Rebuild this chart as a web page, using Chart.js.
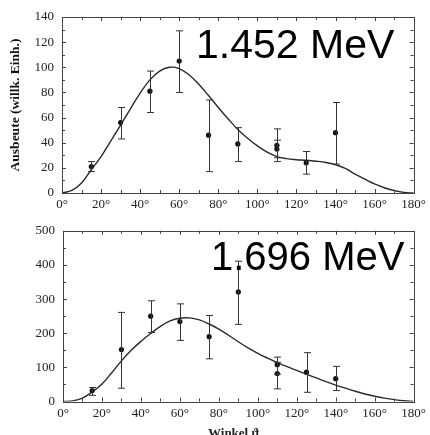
<!DOCTYPE html>
<html><head><meta charset="utf-8">
<script src="https://cdn.jsdelivr.net/npm/chart.js@4.4.0/dist/chart.umd.min.js"></script>
<style>
html,body{margin:0;padding:0;background:#fff;}
#wrap{position:relative;width:430px;height:435px;overflow:hidden;background:#fff;}
.c{position:absolute;left:0;width:430px;}
.lbl{position:absolute;font-family:"Liberation Sans",Arial,sans-serif;color:#000;white-space:nowrap;line-height:1;}
.xt{position:absolute;font-family:"Liberation Serif","Times New Roman",serif;font-weight:bold;font-size:13px;color:#222;white-space:nowrap;line-height:1;}
</style></head><body>
<div id="wrap">
<div class="c" style="top:0;height:215px"><canvas id="c1" width="430" height="215"></canvas></div>
<div class="c" style="top:215px;height:220px"><canvas id="c2" width="430" height="220"></canvas></div>
<div class="lbl" style="left:196px;top:24px;font-size:41px;">1.452 MeV</div>
<div class="lbl" style="left:211px;top:236px;font-size:40px;">1.696 MeV</div>
<div class="xt" style="left:208px;top:426px;">Winkel ϑ</div>
</div>
<script>
// ---- data ----
const angles = [15, 30, 45, 60, 75, 90, 110, 110, 125, 140];

const topValues = [21, 56, 81, 105, 46, 39, 38, 35, 24, 48];
const topLow    = [17, 43, 64, 80, 17, 25, 25, 28, 15, 23];
const topHigh   = [25, 68, 97, 129, 74, 52, 51, 42, 33, 72];

const bottomValues = [32, 152, 250, 234, 190, 321, 108, 82, 86, 67];
const bottomLow    = [18, 39, 202, 179, 125, 226, 80, 37, 27, 32];
const bottomHigh   = [41, 261, 295, 286, 252, 411, 130, 115, 143, 103];

const curveAngles = [0,5,10,15,20,25,30,35,40,45,50,55,60,65,70,75,80,85,90,95,100,105,110,115,120,125,130,135,140,145,150,155,160,165,170,175,180];
const topCurve    = [0,2,8,18.5,29,41.5,54,67,79.5,90,97,100,99,94,86.5,77.5,68,59,50.5,43.5,37.5,32.5,29,27.3,26.5,26,25.3,24.3,22.5,19.5,15,11,7.2,4.2,2,0.5,0];
const bottomCurve = [0,2,10,28,51,84,119,150,176,199,220,236,244,245,239,227,212,194,175,157,141,127,114,102,91,80,69,58,48,39,30,22,15.5,10,5.5,2,0];

const xTickLabels = ['0°','20°','40°','60°','80°','100°','120°','140°','160°','180°'];
const yTitle = 'Ausbeute (willk. Einh.)';

// ---- plugins ----
const errPlugin = {
  id: 'errbars',
  afterDatasetsDraw(chart, args, o) {
    const {ctx} = chart, x = chart.scales.x, y = chart.scales.y;
    ctx.save();
    ctx.strokeStyle = '#333'; ctx.lineWidth = 1;
    for (let i = 0; i < o.xs.length; i++) {
      const px = Math.round(x.getPixelForValue(o.xs[i])) + 0.5;
      const y1 = y.getPixelForValue(o.lo[i]), y2 = y.getPixelForValue(o.hi[i]);
      ctx.beginPath();
      ctx.moveTo(px, y1); ctx.lineTo(px, y2);
      ctx.moveTo(px - 3.5, y1); ctx.lineTo(px + 3.5, y1);
      ctx.moveTo(px - 3.5, y2); ctx.lineTo(px + 3.5, y2);
      ctx.stroke();
    }
    ctx.restore();
  }
};
const framePlugin = {
  id: 'frame',
  afterDraw(chart, args, o) {
    const {ctx, chartArea: a} = chart, x = chart.scales.x, y = chart.scales.y;
    ctx.save();
    ctx.strokeStyle = '#444'; ctx.lineWidth = 1;
    ctx.strokeRect(Math.round(a.left) + 0.5, Math.round(a.top) + 0.5, Math.round(a.right - a.left), Math.round(a.bottom - a.top));
    ctx.beginPath();
    for (let v = x.min; v <= x.max; v += o.xMinor) {
      const px = Math.round(x.getPixelForValue(v)) + 0.5;
      const L = (v % o.xMajor === 0) ? 4 : 3;
      ctx.moveTo(px, a.bottom); ctx.lineTo(px, a.bottom - L);
      ctx.moveTo(px, a.top); ctx.lineTo(px, a.top + L);
    }
    for (let v = y.min; v <= y.max; v += o.yMinor) {
      const py = Math.round(y.getPixelForValue(v)) + 0.5;
      const L = (v % o.yMajor === 0) ? 4 : 3;
      ctx.moveTo(a.left, py); ctx.lineTo(a.left + L, py);
      ctx.moveTo(a.right, py); ctx.lineTo(a.right - L, py);
    }
    ctx.stroke();
    ctx.restore();
  }
};

const serif = '"Liberation Serif","Times New Roman",serif';

function makeChart(id, vals, lo, hi, curve, yMax, yStep, yMinor, pad, yWidth, withTitle) {
  return new Chart(document.getElementById(id), {
    type: 'scatter',
    data: {
      datasets: [
        {
          data: angles.map((a, i) => ({x: a, y: vals[i]})),
          pointRadius: 2.6, pointBackgroundColor: '#111', pointBorderColor: '#111', pointBorderWidth: 0,
          showLine: false, order: 0
        },
        {
          type: 'line',
          data: curveAngles.map((a, i) => ({x: a, y: curve[i]})),
          borderColor: '#2a2a2a', borderWidth: 1.4, pointRadius: 0, fill: false,
          tension: 0.4, order: 1
        }
      ]
    },
    options: {
      responsive: false, animation: false, devicePixelRatio: 1,
      layout: {padding: pad},
      plugins: {
        legend: {display: false}, tooltip: {enabled: false},
        errbars: {xs: angles, lo: lo, hi: hi},
        frame: {xMinor: 10, xMajor: 20, yMinor: yMinor, yMajor: yStep}
      },
      scales: {
        x: {
          type: 'linear', min: 0, max: 180,
          grid: {display: false, drawTicks: false}, border: {display: false},
          ticks: {stepSize: 20, autoSkip: false, maxRotation: 0, padding: 4, color: '#222',
                  font: {family: serif, size: 13},
                  callback: (v) => xTickLabels[Math.round(v / 20)]},
          afterFit: (s) => { s.height = 18; }
        },
        y: {
          min: 0, max: yMax,
          grid: {display: false, drawTicks: false}, border: {display: false},
          ticks: {stepSize: yStep, padding: 8, color: '#222', font: {family: serif, size: 13}},
          title: {display: withTitle, text: yTitle, color: '#111', padding: {top: 7, bottom: 0},
                  font: {family: serif, size: 13.5, weight: 'bold'}},
          afterFit: (s) => { s.width = yWidth; }
        }
      }
    },
    plugins: [errPlugin, framePlugin]
  });
}

makeChart('c1', topValues, topLow, topHigh, topCurve, 140, 20, 10, {left: 0, top: 17, right: 16, bottom: 4}, 62, true);
makeChart('c2', bottomValues, bottomLow, bottomHigh, bottomCurve, 500, 100, 50, {left: 0, top: 9, right: 13.5, bottom: 15.5}, 63, false);
</script>
</body></html>
